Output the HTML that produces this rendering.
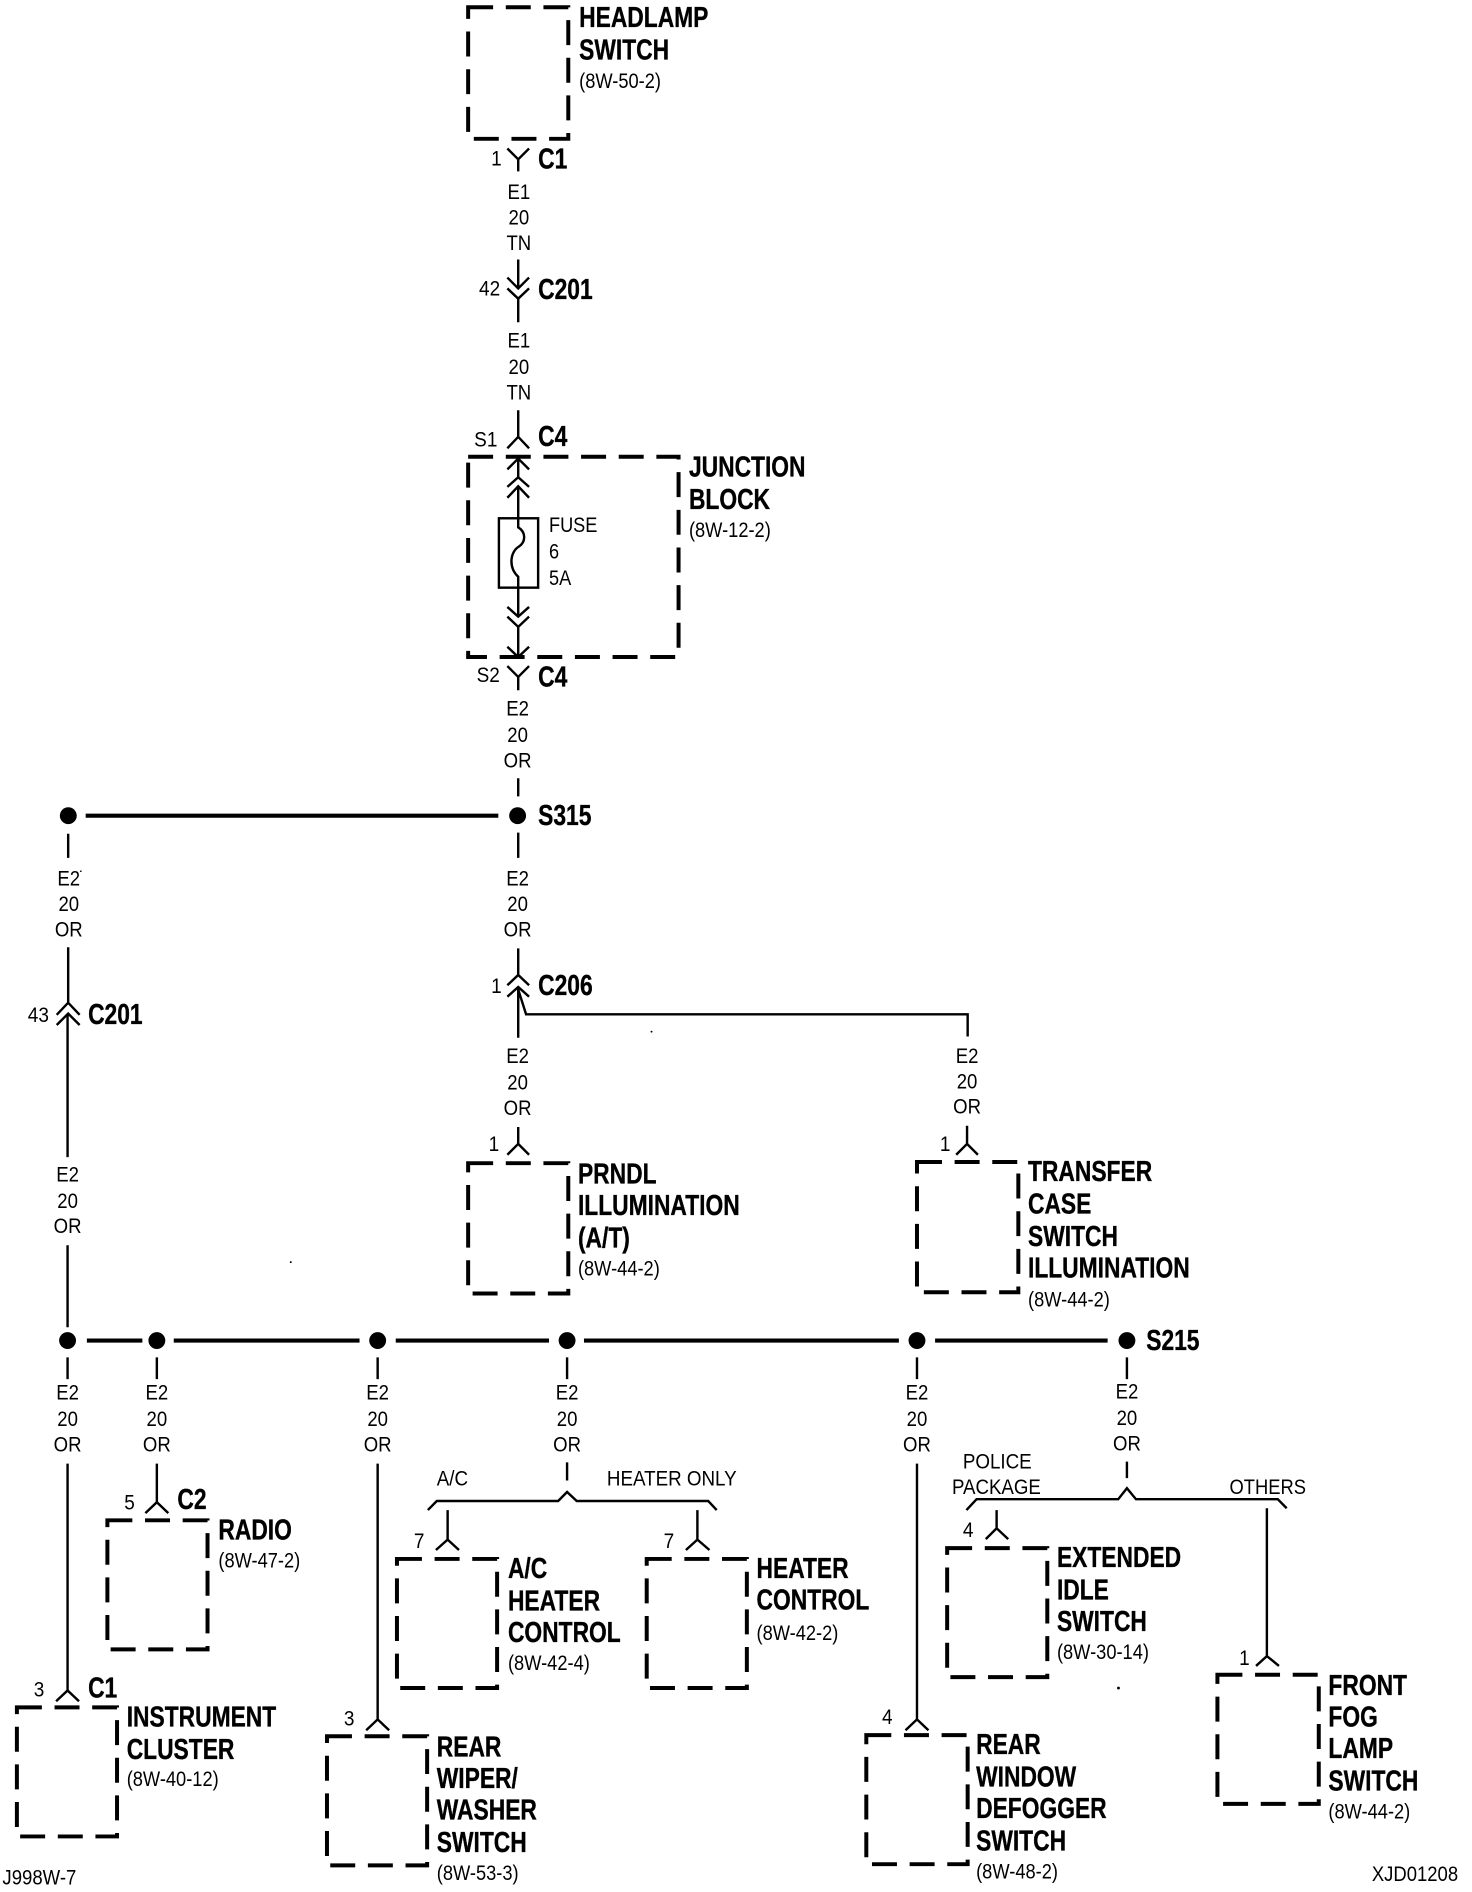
<!DOCTYPE html>
<html><head><meta charset="utf-8"><title>Wiring diagram</title>
<style>
html,body{margin:0;padding:0;background:#fff}
svg{display:block}
text{fill:#000;font-family:"Liberation Sans",sans-serif}
.b text{font-weight:bold;font-size:23.5px;stroke:#000;stroke-width:.3px}
.s text{font-size:17.5px}
.m text{font-size:17.5px;text-anchor:middle}
.box{fill:none;stroke:#000;stroke-width:3.3;stroke-dasharray:20.7 10.5}
.w{fill:none;stroke:#000;stroke-width:2}
.t{fill:none;stroke:#000;stroke-width:3.4}
</style></head><body>
<svg xmlns="http://www.w3.org/2000/svg" width="1472" height="1892" viewBox="0 0 1220 1568">
<rect width="1220" height="1568" fill="#fff"/>
<!-- boxes -->
<path class="box" d="M388 6H471V115H388Z"/>
<path class="box" d="M388 378.5H562.4V544.5H388Z"/>
<path class="box" d="M388 964H471V1072H388Z"/>
<path class="box" d="M760 963H844V1071H760Z"/>
<path class="box" d="M89 1260H172V1367H89Z"/>
<path class="box" d="M329 1292H412V1399H329Z"/>
<path class="box" d="M536 1292H619V1399H536Z"/>
<path class="box" d="M785 1283H868V1390H785Z"/>
<path class="box" d="M1009 1388H1093V1495H1009Z"/>
<path class="box" d="M14 1415H97V1522H14Z"/>
<path class="box" d="M271 1439H354V1546H271Z"/>
<path class="box" d="M718 1438H802V1545H718Z"/>
<!-- fuse -->
<rect x="413.5" y="429.5" width="32.5" height="57.5" fill="none" stroke="#000" stroke-width="2"/>
<!-- main wires -->
<path class="w" d="M420.5 123L429.5 132L438.5 123M429.5 132V142"/>
<path class="w" d="M429.5 215V239M420.5 230L429.5 239L438.5 230M420.5 239L429.5 247.5L438.5 239M429.5 247.5V267"/>
<path class="w" d="M429.5 340V362M420.5 371.5L429.5 362L438.5 371.5"/>
<path class="w" d="M420.5 389L429.5 380L438.5 389M429.5 380V395.5M420.5 403.5L429.5 395.5L438.5 403.5M420.5 412.5L429.5 403L438.5 412.5"/>
<path class="w" stroke-width="2.4" d="M429.5 403V437C436 441 436 449 430 453C423 457 421 470 429.5 478V511M420.5 503L429.5 511L438.5 503M420.5 511L429.5 519.5L438.5 511M429.5 519.5V544.5M420.5 536L429.5 544.5L438.5 536"/>
<path class="w" d="M420.5 552L429.5 561L438.5 552M429.5 561V572"/>
<path class="w" d="M429.5 645V660M429.5 690V711"/>
<path class="w" d="M429.5 786V808M420.5 816.5L429.5 808L438.5 816.5M420.5 826L429.5 818L438.5 826M429.5 818V860M429.5 820L436 840.6H802V859"/>
<path class="w" d="M429.5 934V948M420.5 957L429.5 948L438.5 957"/>
<path class="w" d="M801.5 933V948M792.5 957L801.5 948L810.5 957"/>
<path class="w" d="M56.5 691V711M56.5 785V831M47 841L56.5 831L66 841M47 849.5L56.5 840L66 849.5M56 840V959M56 1032V1100"/>
<!-- bus lines -->
<path class="t" d="M71 676H413"/>
<path class="t" d="M72 1111H118M144 1111H298M328 1111H455M484 1111H745M775 1111H918"/>
<circle cx="429" cy="676" r="7"/><circle cx="56.6" cy="676" r="7"/>
<circle cx="56" cy="1111" r="7"/><circle cx="130" cy="1111" r="7"/><circle cx="313" cy="1111" r="7"/><circle cx="470" cy="1111" r="7"/><circle cx="760" cy="1111" r="7"/><circle cx="934" cy="1111" r="7"/>
<!-- drops -->
<path class="w" d="M56 1125V1143M130 1125V1143M313 1125V1143M470 1125V1143M760 1125V1143M934 1125V1143"/>
<path class="w" d="M56 1213V1401M46.5 1410L56 1401L65.5 1410"/>
<path class="w" d="M130 1213V1245M120.5 1254L130 1245L139.5 1254"/>
<path class="w" d="M313 1213V1425M303.5 1434L313 1425L322.5 1434"/>
<path class="w" d="M760 1213V1425M750.5 1434L760 1425L769.5 1434"/>
<path class="w" d="M470 1212V1227M354.6 1251.5L362 1244H462.6L470 1236.5L478 1244H587L594 1251.5"/>
<path class="w" d="M371 1251.5V1276M361.3 1284.6L371 1276L380.4 1284.6M578 1251.5V1276M568.5 1284.6L578 1276L588 1284.6"/>
<path class="w" d="M934 1211.4V1225M801 1251.5L809.4 1242.5H926.8L934 1233.4L941.5 1242.5H1059L1066.4 1250"/>
<path class="w" d="M826 1251.5V1266.6M817 1275.6L826 1266.6L835.6 1275.6M1050 1250V1372.5M1041 1380.7L1050 1372.5L1060 1380.7"/>
<circle cx="241" cy="1046" r=".8"/><circle cx="927" cy="1399" r="1.2"/><circle cx="540" cy="855" r=".8"/><circle cx="67" cy="722" r=".7"/>
<!-- bold labels -->
<g transform="translate(0 -.7)">
<g class="b" transform="translate(480 0) scale(.805 1)"><text y="23">HEADLAMP</text><text y="50">SWITCH</text></g>
<g class="b" transform="translate(446 0) scale(.805 1)"><text y="140.5">C1</text><text y="248.5">C201</text><text y="370.5">C4</text><text y="569.5">C4</text><text y="684.5">S315</text><text y="825.5">C206</text></g>
<g class="b" transform="translate(571 0) scale(.805 1)"><text y="395.5">JUNCTION</text><text y="422.5">BLOCK</text></g>
<g class="b" transform="translate(479 0) scale(.805 1)"><text y="981.5">PRNDL</text><text y="1007.5">ILLUMINATION</text><text y="1034.5">(A/T)</text></g>
<g class="b" transform="translate(852 0) scale(.805 1)"><text y="979.5">TRANSFER</text><text y="1006.5">CASE</text><text y="1033.5">SWITCH</text><text y="1059.5">ILLUMINATION</text></g>
<g class="b" transform="translate(73 0) scale(.805 1)"><text y="849.5">C201</text><text y="1407.5">C1</text></g>
<g class="b" transform="translate(950 0) scale(.805 1)"><text y="1119.5">S215</text></g>
<g class="b" transform="translate(147 0) scale(.805 1)"><text y="1251.5">C2</text></g>
<g class="b" transform="translate(181 0) scale(.805 1)"><text y="1276.5">RADIO</text></g>
<g class="b" transform="translate(421 0) scale(.805 1)"><text y="1308.5">A/C</text><text y="1335.5">HEATER</text><text y="1361.5">CONTROL</text></g>
<g class="b" transform="translate(627 0) scale(.805 1)"><text y="1308.5">HEATER</text><text y="1334.5">CONTROL</text></g>
<g class="b" transform="translate(876 0) scale(.805 1)"><text y="1299.5">EXTENDED</text><text y="1326.5">IDLE</text><text y="1352.5">SWITCH</text></g>
<g class="b" transform="translate(1101 0) scale(.805 1)"><text y="1405.5">FRONT</text><text y="1431.5">FOG</text><text y="1457.5">LAMP</text><text y="1484.5">SWITCH</text></g>
<g class="b" transform="translate(105 0) scale(.805 1)"><text y="1431.5">INSTRUMENT</text><text y="1458.5">CLUSTER</text></g>
<g class="b" transform="translate(362 0) scale(.805 1)"><text y="1456.5">REAR</text><text y="1482.5">WIPER/</text><text y="1508.5">WASHER</text><text y="1535.5">SWITCH</text></g>
<g class="b" transform="translate(809 0) scale(.805 1)"><text y="1454.5">REAR</text><text y="1481.5">WINDOW</text><text y="1507.5">DEFOGGER</text><text y="1534.5">SWITCH</text></g>
</g>
<!-- small refs -->
<g class="s" transform="translate(480 0) scale(.865 1)"><text y="73">(8W-50-2)</text></g>
<g class="s" transform="translate(571 0) scale(.865 1)"><text y="445">(8W-12-2)</text></g>
<g class="s" transform="translate(479 0) scale(.865 1)"><text y="1057">(8W-44-2)</text></g>
<g class="s" transform="translate(852 0) scale(.865 1)"><text y="1083">(8W-44-2)</text></g>
<g class="s" transform="translate(181 0) scale(.865 1)"><text y="1299">(8W-47-2)</text></g>
<g class="s" transform="translate(421 0) scale(.865 1)"><text y="1384">(8W-42-4)</text></g>
<g class="s" transform="translate(627 0) scale(.865 1)"><text y="1359">(8W-42-2)</text></g>
<g class="s" transform="translate(876 0) scale(.865 1)"><text y="1375">(8W-30-14)</text></g>
<g class="s" transform="translate(1101 0) scale(.865 1)"><text y="1507">(8W-44-2)</text></g>
<g class="s" transform="translate(105 0) scale(.865 1)"><text y="1480">(8W-40-12)</text></g>
<g class="s" transform="translate(362 0) scale(.865 1)"><text y="1558">(8W-53-3)</text></g>
<g class="s" transform="translate(809 0) scale(.865 1)"><text y="1557">(8W-48-2)</text></g>
<g class="s" transform="translate(455 0) scale(.86 1)"><text y="441">FUSE</text><text y="463">6</text><text y="485">5A</text></g>
<!-- pin numbers -->
<g class="s" transform="translate(407 0) scale(.9 1)"><text y="137">1</text><text y="823">1</text></g>
<g class="s" transform="translate(397 0) scale(.9 1)"><text y="245">42</text></g>
<g class="s" transform="translate(393 0) scale(.9 1)"><text y="370">S1</text></g>
<g class="s" transform="translate(395 0) scale(.9 1)"><text y="565">S2</text></g>
<g class="s" transform="translate(405 0) scale(.9 1)"><text y="954">1</text></g>
<g class="s" transform="translate(779 0) scale(.9 1)"><text y="954">1</text></g>
<g class="s" transform="translate(23 0) scale(.9 1)"><text y="847">43</text></g>
<g class="s" transform="translate(103 0) scale(.9 1)"><text y="1251">5</text></g>
<g class="s" transform="translate(343 0) scale(.9 1)"><text y="1283">7</text></g>
<g class="s" transform="translate(550 0) scale(.9 1)"><text y="1283">7</text></g>
<g class="s" transform="translate(798 0) scale(.9 1)"><text y="1274">4</text></g>
<g class="s" transform="translate(1027 0) scale(.9 1)"><text y="1380">1</text></g>
<g class="s" transform="translate(28 0) scale(.9 1)"><text y="1406">3</text></g>
<g class="s" transform="translate(285 0) scale(.9 1)"><text y="1430">3</text></g>
<g class="s" transform="translate(731 0) scale(.9 1)"><text y="1429">4</text></g>
<!-- option labels -->
<g class="s" transform="translate(362 0) scale(.89 1)"><text y="1231">A/C</text></g>
<g class="s" transform="translate(503 0) scale(.89 1)"><text y="1231">HEATER ONLY</text></g>
<g class="s" transform="translate(798 0) scale(.89 1)"><text y="1217">POLICE</text></g>
<g class="s" transform="translate(789 0) scale(.885 1)"><text y="1238">PACKAGE</text></g>
<g class="s" transform="translate(1019 0) scale(.87 1)"><text y="1238">OTHERS</text></g>
<g class="s" transform="translate(2 0) scale(.88 1)"><text y="1562">J998W-7</text></g>
<g class="s" transform="translate(1137 0) scale(.875 1)"><text y="1559">XJD01208</text></g>
<!-- wire labels -->
<g class="m" transform="translate(430 0) scale(.88 1)"><text y="165">E1</text><text y="186">20</text><text y="207">TN</text><text y="288">E1</text><text y="310">20</text><text y="331">TN</text></g>
<g class="m" transform="translate(429 0) scale(.88 1)"><text y="593">E2</text><text y="615">20</text><text y="636">OR</text><text y="734">E2</text><text y="755">20</text><text y="776">OR</text><text y="881">E2</text><text y="903">20</text><text y="924">OR</text></g>
<g class="m" transform="translate(801.5 0) scale(.88 1)"><text y="881">E2</text><text y="902">20</text><text y="923">OR</text></g>
<g class="m" transform="translate(57 0) scale(.88 1)"><text y="734">E2</text><text y="755">20</text><text y="776">OR</text></g>
<g class="m" transform="translate(56 0) scale(.88 1)"><text y="979">E2</text><text y="1001">20</text><text y="1022">OR</text><text y="1160">E2</text><text y="1182">20</text><text y="1203">OR</text></g>
<g class="m" transform="translate(130 0) scale(.88 1)"><text y="1160">E2</text><text y="1182">20</text><text y="1203">OR</text></g>
<g class="m" transform="translate(313 0) scale(.88 1)"><text y="1160">E2</text><text y="1182">20</text><text y="1203">OR</text></g>
<g class="m" transform="translate(470 0) scale(.88 1)"><text y="1160">E2</text><text y="1182">20</text><text y="1203">OR</text></g>
<g class="m" transform="translate(760 0) scale(.88 1)"><text y="1160">E2</text><text y="1182">20</text><text y="1203">OR</text></g>
<g class="m" transform="translate(934 0) scale(.88 1)"><text y="1159">E2</text><text y="1181">20</text><text y="1202">OR</text></g>
</svg>
</body></html>
